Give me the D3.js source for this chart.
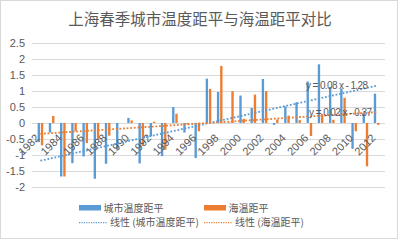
<!DOCTYPE html>
<html>
<head>
<meta charset="utf-8">
<script src="https://cdn.jsdelivr.net/npm/d3@7"></script>
<style>
  html, body { margin: 0; padding: 0; background: #fff; }
  svg { display: block; font-family: "Liberation Sans", "Noto Sans CJK SC", sans-serif; }
</style>
</head>
<body>
<svg id="chart" width="399" height="240"></svg>
<script>
const years = [1982, 1983, 1984, 1985, 1986, 1987, 1988, 1989, 1990, 1991, 1992,
  1993, 1994, 1995, 1996, 1997, 1998, 1999, 2000, 2001, 2002, 2003, 2004, 2005,
  2006, 2007, 2008, 2009, 2010, 2011, 2012];
const cityAnomaly = [-0.6, -0.3, -1.68, -1.26, -1.05, -1.75, -1.28, -0.84, 0.16, -1.27, -0.42,
  -1.04, 0.5, -0.3, -1.1, 1.39, 0.97, 0.02, 0.86, 0.47, 1.38, -0.06, 0.52, 0.65,
  1.3, 1.84, 1.13, 1.08, -0.81, 0.33, 0.92];
const seaAnomaly = [-0.7, 0.22, -1.68, -0.26, -0.63, -0.5, -0.4, 0.0, 0.08, -0.72, 0.04,
  -0.84, 0.29, -0.05, -0.26, 1.07, 1.79, 1.0, 0.13, 0.89, 1.0, 0.11, 0.23, 0.09,
  -0.41, 0.28, 0.1, 0.79, -0.26, -1.36, -0.06];
const yTicks = [-2, -1.5, -1, -0.5, 0, 0.5, 1, 1.5, 2, 2.5];
const xTickLabels = [1982, 1984, 1986, 1988, 1990, 1992, 1994, 1996, 1998, 2000,
  2002, 2004, 2006, 2008, 2010, 2012];
const seriesNames = ["城市温度距平", "海温距平"];
const trendNames = ["线性 (城市温度距平)", "线性 (海温距平)"];
const trendLabels = ["y = 0.08 x - 1.28", "y = 0.02 x - 0.37"];
const title = "上海春季城市温度距平与海温距平对比";

const colors = ["#5B9BD5", "#ED7D31"];
const textColor = "#595959";
const gridColor = "#d9d9d9";

const svg = d3.select("#chart");
const plot = { left: 32, right: 385, top: 43.3, bottom: 186.7 };

svg.append("rect")
  .attr("x", 0.5).attr("y", 0.5)
  .attr("width", 397).attr("height", 238)
  .attr("fill", "#fff")
  .attr("stroke", gridColor);

svg.append("text")
  .attr("x", 200).attr("y", 25)
  .attr("text-anchor", "middle")
  .attr("font-family", "Noto Sans CJK SC")
  .attr("font-size", 15.5)
  .attr("fill", textColor)
  .text(title);

const x = d3.scaleBand().domain(years).range([plot.left, plot.right]).padding(0.5);
const y = d3.scaleLinear().domain([-2, 2.5]).range([plot.bottom, plot.top]);
const xInner = d3.scaleBand().domain([0, 1]).range([0, x.bandwidth()]).paddingInner(0.27);
const center = (yr) => x(yr) + x.bandwidth() / 2;

// gridlines + y labels
svg.append("g")
  .selectAll("line")
  .data(yTicks)
  .join("line")
  .attr("x1", plot.left).attr("x2", plot.right)
  .attr("y1", (d) => Math.round(y(d)) + 0.5)
  .attr("y2", (d) => Math.round(y(d)) + 0.5)
  .attr("stroke", gridColor)
  .attr("stroke-width", 1);

svg.append("g")
  .selectAll("text")
  .data(yTicks)
  .join("text")
  .attr("x", 25)
  .attr("y", (d) => y(d))
  .attr("dy", "0.35em")
  .attr("text-anchor", "end")
  .attr("font-size", 11)
  .attr("fill", textColor)
  .text((d) => d);

// bars
[cityAnomaly, seaAnomaly].forEach((values, s) => {
  svg.append("g")
    .selectAll("rect")
    .data(values)
    .join("rect")
    .attr("x", (d, i) => x(years[i]) + xInner(s))
    .attr("width", xInner.bandwidth())
    .attr("y", (d) => y(Math.max(0, d)))
    .attr("height", (d) => Math.abs(y(d) - y(0)))
    .attr("fill", colors[s]);
});

// x labels (rotated, next to the zero line)
svg.append("g")
  .selectAll("text")
  .data(xTickLabels)
  .join("text")
  .attr("transform", (d) => `translate(${center(d) - 3},${y(0) + 13}) rotate(-45)`)
  .attr("dy", "0.35em")
  .attr("text-anchor", "end")
  .attr("font-size", 11)
  .attr("fill", textColor)
  .text((d) => d);

// linear trendlines (least squares on x = 1..n)
function fitLine(values) {
  const xs = values.map((_, i) => i + 1);
  const mx = d3.mean(xs);
  const my = d3.mean(values);
  const slope = d3.sum(xs, (xi, i) => (xi - mx) * (values[i] - my)) / d3.sum(xs, (xi) => (xi - mx) ** 2);
  return { slope, intercept: my - slope * mx };
}

[cityAnomaly, seaAnomaly].forEach((values, s) => {
  const fit = fitLine(values);
  const ends = [0, values.length - 1].map((i) => [center(years[i]), y(fit.intercept + fit.slope * (i + 1))]);
  svg.append("path")
    .attr("d", d3.line()(ends))
    .attr("fill", "none")
    .attr("stroke", colors[s])
    .attr("stroke-width", 1.8)
    .attr("stroke-dasharray", "1.8,1.8");
});

svg.append("text")
  .attr("x", 306).attr("y", 89)
  .attr("font-size", 10).attr("textLength", 62)
  .attr("fill", textColor)
  .text(trendLabels[0]);
svg.append("text")
  .attr("x", 309).attr("y", 116)
  .attr("font-size", 10).attr("textLength", 63)
  .attr("fill", textColor)
  .text(trendLabels[1]);

// legend
const legend = svg.append("g").attr("font-family", "Noto Sans CJK SC").attr("font-size", 10).attr("fill", textColor);
const legendX = [79, 204];
seriesNames.forEach((name, s) => {
  legend.append("rect")
    .attr("x", legendX[s]).attr("y", 205)
    .attr("width", 22).attr("height", 5.5)
    .attr("fill", colors[s]);
  legend.append("text")
    .attr("x", legendX[s] + 24.5).attr("y", 208).attr("dy", "0.35em")
    .text(name);
});
trendNames.forEach((name, s) => {
  legend.append("line")
    .attr("x1", legendX[s]).attr("x2", legendX[s] + 28)
    .attr("y1", 222.7).attr("y2", 222.7)
    .attr("stroke", colors[s])
    .attr("stroke-width", 1.2)
    .attr("stroke-dasharray", "1.2,1.2");
  legend.append("text")
    .attr("x", legendX[s] + (s === 0 ? 31 : 31)).attr("y", 222.7).attr("dy", "0.35em")
    .text(name);
});
</script>
</body>
</html>
